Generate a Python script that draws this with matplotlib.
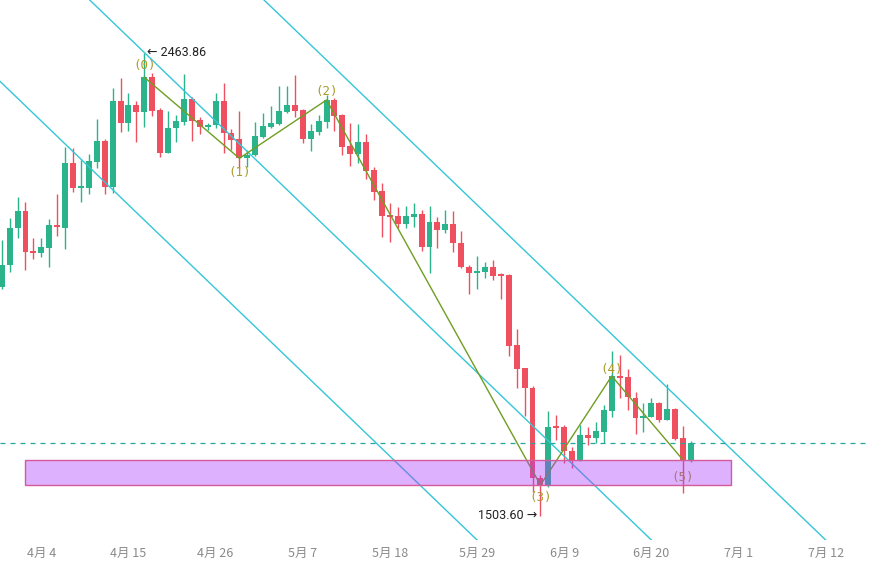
import numpy as np
import matplotlib
matplotlib.use('Agg')
import matplotlib.pyplot as plt
from matplotlib.patches import Rectangle

# ---------------- data ----------------
day = np.arange(-5, 83)  # days relative to 4月4

opens = [1978.6, 2023.6, 2099.6, 2135.5, 2052.6, 2049.1, 2059.5, 2106.5, 2100.9, 2234.3,
         2183.8, 2183.8, 2237.6, 2280.5, 2185.8, 2363.4, 2317.2, 2355.1, 2341.2, 2412.5,
         2344.7, 2256.3, 2306.8, 2320.5, 2366.9, 2324.0, 2308.9, 2313.0, 2363.4, 2296.5,
         2284.0, 2245.9, 2251.5, 2289.4, 2310.1, 2315.7, 2341.2, 2355.1, 2344.7, 2285.3,
         2299.8, 2320.5, 2365.5, 2334.4, 2270.2, 2253.0, 2279.1, 2220.4, 2176.9, 2127.2,
         2125.8, 2108.0, 2123.7, 2129.3, 2061.5, 2112.1, 2096.1, 2108.0, 2068.6, 2020.1,
         2006.4, 2009.7, 2018.9, 2005.0, 2002.9, 1857.9, 1809.6, 1768.2, 1581.7, 1566.4,
         1690.1, 1687.4, 1638.3, 1619.6, 1671.4, 1664.6, 1678.3, 1721.8, 1793.6, 1792.2,
         1747.4, 1707.3, 1709.3, 1737.1, 1702.5, 1724.7, 1664.6, 1619.6]

highs = [2075.4, 2120.4, 2165.1, 2154.8, 2080.2, 2078.9, 2118.9, 2170.1, 2268.7, 2265.4,
         2241.2, 2253.0, 2325.5, 2284.7, 2390.9, 2411.7, 2379.3, 2364.0, 2463.86, 2422.0,
         2348.3, 2342.7, 2334.4, 2418.7, 2371.0, 2329.6, 2317.2, 2380.6, 2401.3, 2304.8,
         2342.7, 2261.9, 2320.5, 2337.9, 2353.6, 2394.5, 2394.5, 2417.3, 2346.2, 2315.1,
         2334.4, 2375.8, 2369.0, 2335.8, 2318.4, 2315.1, 2295.0, 2226.0, 2192.9, 2152.7,
         2144.4, 2146.5, 2153.1, 2137.6, 2146.5, 2123.7, 2137.6, 2135.5, 2094.1, 2023.6,
         2042.3, 2030.5, 2034.0, 2006.4, 2004.3, 1890.4, 1809.6, 1772.9, 1588.5, 1721.1,
         1712.9, 1692.1, 1647.2, 1692.1, 1688.6, 1699.0, 1733.6, 1846.1, 1837.2, 1807.5,
         1761.1, 1737.1, 1747.4, 1740.4, 1777.1, 1726.7, 1690.1, 1659.6]

lows = [1973.9, 2009.7, 2078.9, 2013.3, 2036.0, 2040.8, 2018.9, 2084.3, 2056.1, 2175.5,
        2153.5, 2170.7, 2224.0, 2170.1, 2172.2, 2299.8, 2301.9, 2279.1, 2310.1, 2332.3,
        2248.0, 2255.0, 2279.1, 2313.7, 2281.1, 2295.0, 2303.3, 2308.1, 2255.0, 2261.9,
        2224.0, 2227.3, 2249.4, 2286.1, 2306.8, 2313.7, 2338.5, 2330.9, 2275.8, 2260.4,
        2292.9, 2306.8, 2301.2, 2251.5, 2229.3, 2234.3, 2201.2, 2158.3, 2082.2, 2071.9,
        2099.6, 2099.6, 2103.0, 2053.2, 2006.4, 2058.2, 2089.3, 2051.2, 2018.0, 1963.5,
        1973.3, 1996.1, 1992.5, 1952.5, 1835.7, 1768.2, 1711.4, 1553.9, 1503.6, 1564.3,
        1661.1, 1612.8, 1602.4, 1618.2, 1650.7, 1654.2, 1654.2, 1708.1, 1747.4, 1723.2,
        1672.9, 1678.3, 1708.1, 1699.0, 1702.5, 1661.1, 1550.6, 1616.1]

closes = [2023.6, 2099.6, 2135.5, 2051.2, 2048.5, 2060.3, 2106.5, 2102.3, 2234.3, 2183.8,
          2187.3, 2239.1, 2280.5, 2185.8, 2363.4, 2317.2, 2355.1, 2341.2, 2412.5, 2343.3,
          2255.0, 2306.8, 2322.0, 2366.9, 2322.6, 2308.9, 2313.0, 2363.4, 2296.5, 2282.6,
          2244.7, 2251.5, 2290.9, 2311.6, 2317.2, 2343.3, 2355.1, 2343.3, 2285.3, 2301.2,
          2322.0, 2365.5, 2332.9, 2268.7, 2253.0, 2279.1, 2219.0, 2175.5, 2125.8, 2123.7,
          2108.6, 2125.8, 2129.3, 2061.5, 2112.1, 2096.1, 2108.0, 2068.6, 2020.1, 2006.4,
          2011.2, 2018.9, 2001.4, 2001.4, 1855.8, 1808.2, 1768.2, 1581.7, 1567.8, 1687.4,
          1686.5, 1638.3, 1619.6, 1671.4, 1664.6, 1679.7, 1723.2, 1793.6, 1790.1, 1749.5,
          1707.3, 1710.8, 1737.1, 1702.5, 1724.7, 1663.1, 1619.6, 1654.2]

tick_days = [0, 11, 22, 33, 44, 55, 66, 77, 88, 99]
tick_labels = ["4月 4", "4月 15", "4月 26", "5月 7", "5月 18",
               "5月 29", "6月 9", "6月 20", "7月 1", "7月 12"]

wave_idx = [18, 30, 41, 68, 77, 86]
wave_labels = ["(0)", "(1)", "(2)", "(3)", "(4)", "(5)"]

channel_days = [13, 77]
channel_prices = [2463.86, 1453.9]
channel_offset = 347.2

zone_days = [-2.06, 87.05]
zone_prices = [1567.8, 1619.6]

# ---------------- style ----------------
GREEN = '#2bb48c'
RED = '#ef5060'
CHANNEL = '#35c6d6'
WAVE = '#6f9e22'
LABEL = '#a89a2a'
wave_label_offsets = [12, -14, 8, -12, 7, -17]   # pixels

fig = plt.figure(figsize=(8.69, 5.65), dpi=100)
ax = fig.add_axes([0, 25 / 565, 1, 540 / 565])
ax.set_xlim(-5.215, 104.47)
ax.set_ylim(1453.9, 2572.63)
for s in ax.spines.values():
    s.set_visible(False)
ax.set_yticks([])
ax.set_xticks(tick_days)
ax.set_xticklabels(tick_labels, family=['Noto Sans CJK SC', 'DejaVu Sans'],
                   color='#8a8a8a', fontsize=9)
ax.tick_params(axis='x', length=0, pad=5)

o = np.array(opens)
h = np.array(highs)
l = np.array(lows)
c = np.array(closes)
up = c >= o
colors = np.where(up, GREEN, RED)

ax.vlines(day, l, h, colors=colors, lw=1, zorder=2)
body = np.maximum(np.abs(c - o), 3.0)
ax.bar(day, body, bottom=np.minimum(o, c), width=0.75, color=colors,
       linewidth=0, zorder=3)

# channel lines
slope = (channel_prices[1] - channel_prices[0]) / (channel_days[1] - channel_days[0])
xs = np.array([-10.0, 120.0])
for k in (-1, 0, 1):
    ys = channel_prices[0] + slope * (xs - channel_days[0]) + k * channel_offset
    ax.plot(xs, ys, color=CHANNEL, lw=1, zorder=4)

# wave zigzag
wd = day[wave_idx]
wc = c[wave_idx]
ax.plot(wd, wc, color=WAVE, lw=1, zorder=4)
for xd, yc, lab, off in zip(wd, wc, wave_labels, wave_label_offsets):
    ax.annotate(lab, xy=(xd, yc), xytext=(0, off), textcoords='offset pixels',
                ha='center', va='center', color=LABEL, fontsize=9,
                family='DejaVu Sans Mono', zorder=5)

# last price dashed line
ax.axhline(c[-1], color='#26a69a', lw=0.9, ls=(0, (4, 4)), zorder=5)

# zone
ax.add_patch(Rectangle((zone_days[0], zone_prices[0]), zone_days[1] - zone_days[0],
                       zone_prices[1] - zone_prices[0],
                       facecolor=(170 / 255, 60 / 255, 250 / 255, 0.4),
                       edgecolor='#d65a9a', lw=1, zorder=6))

# high / low annotations
hi = int(np.argmax(h))
lo = int(np.argmin(l))
ax.annotate(f"\u2190 {h[hi]:.2f}", xy=(day[hi], h[hi]), xytext=(3, 0),
            textcoords='offset pixels', ha='left', va='center', fontsize=9,
            family=['Roboto', 'DejaVu Sans'], color='#222222', zorder=7)
ax.annotate(f"{l[lo]:.2f} \u2192", xy=(day[lo], l[lo]), xytext=(-3, 1),
            textcoords='offset pixels', ha='right', va='center', fontsize=9,
            family=['Roboto', 'DejaVu Sans'], color='#222222', zorder=7)

fig.savefig('out.png', dpi=100)
